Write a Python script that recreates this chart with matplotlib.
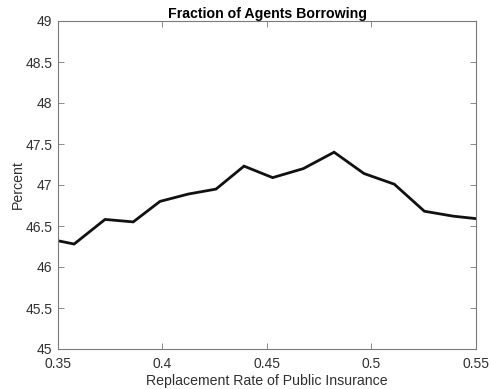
import matplotlib
matplotlib.use("Agg")
import matplotlib.pyplot as plt

# Replacement rate of public insurance vs. share of agents borrowing (%)
replacement_rate = [0.350, 0.3577, 0.3725, 0.386, 0.3988, 0.4124, 0.4256, 0.439,
                    0.4527, 0.4674, 0.4821, 0.4964, 0.5109, 0.5253, 0.5391, 0.550]
pct_borrowing = [46.32, 46.28, 46.58, 46.55, 46.80, 46.89, 46.95, 47.23,
                 47.09, 47.20, 47.40, 47.14, 47.01, 46.68, 46.62, 46.59]

x_ticks = [0.35, 0.4, 0.45, 0.5, 0.55]
x_tick_labels = ["0.35", "0.4", "0.45", "0.5", "0.55"]
y_ticks = [45, 45.5, 46, 46.5, 47, 47.5, 48, 48.5, 49]
y_tick_labels = ["45", "45.5", "46", "46.5", "47", "47.5", "48", "48.5", "49"]

plt.rcParams["font.family"] = ["Liberation Sans", "DejaVu Sans"]
axis_grey = "#7a7a7a"
text_grey = "#303030"

fig = plt.figure(figsize=(4.91, 3.89), dpi=100)
ax = fig.add_axes([58 / 491, 1 - 349 / 389, (476 - 58) / 491, (349 - 21) / 389])

ax.plot(replacement_rate, pct_borrowing, color="#111111", linewidth=2.0,
        solid_joinstyle="miter")

ax.set_xlim(0.35, 0.55)
ax.set_ylim(45, 49)
ax.set_xticks(x_ticks)
ax.set_xticklabels(x_tick_labels)
ax.set_yticks(y_ticks)
ax.set_yticklabels(y_tick_labels)

ax.tick_params(direction="in", length=4, width=0.6, colors=axis_grey,
               labelcolor=text_grey, labelsize=10, top=True, right=True)
ax.tick_params(axis="x", pad=6)
ax.tick_params(axis="y", pad=4)
for spine in ax.spines.values():
    spine.set_color(axis_grey)
    spine.set_linewidth(0.8)

ax.set_title("Fraction of Agents Borrowing", fontsize=10.2, fontweight="bold",
             color="black", pad=2)
ax.set_xlabel("Replacement Rate of Public Insurance", fontsize=10.2,
              color=text_grey, labelpad=2)
ax.set_ylabel("Percent", fontsize=10.2, color=text_grey, labelpad=0.5)

fig.savefig("out.png", dpi=100)
